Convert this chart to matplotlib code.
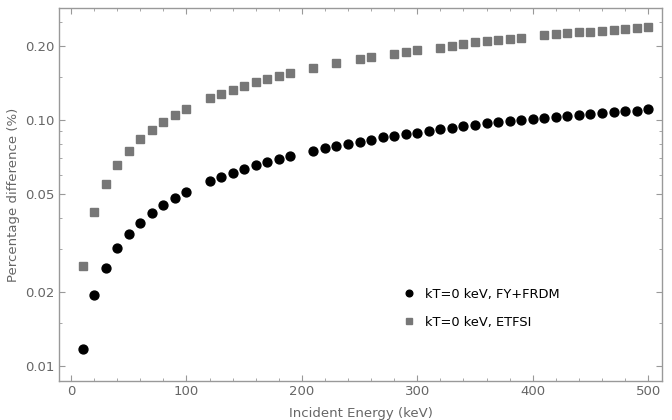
import matplotlib
matplotlib.use("Agg")
import matplotlib.pyplot as plt
from matplotlib.ticker import FixedLocator, FixedFormatter, NullFormatter

# FY+FRDM (black circles)
x_frdm = [10, 20, 30, 40, 50, 60, 70, 80, 90, 100,
          120, 130, 140, 150, 160, 170, 180, 190,
          210, 220, 230, 240, 250, 260, 270, 280, 290, 300,
          310, 320, 330, 340, 350, 360, 370, 380, 390, 400,
          410, 420, 430, 440, 450, 460, 470, 480, 490, 500]
y_frdm = [0.01173, 0.0194, 0.0251, 0.0301, 0.0343, 0.0383, 0.0419, 0.0452, 0.0484, 0.0510,
          0.0566, 0.0587, 0.0612, 0.0633, 0.0655, 0.0676, 0.0695, 0.0715,
          0.0749, 0.0768, 0.0785, 0.0802, 0.0818, 0.0833, 0.0852, 0.0865, 0.0879, 0.0890,
          0.0906, 0.0918, 0.0932, 0.0945, 0.0955, 0.0971, 0.0980, 0.0990, 0.1002, 0.1014,
          0.1021, 0.1030, 0.1043, 0.1052, 0.1063, 0.1069, 0.1080, 0.1086, 0.1093, 0.1107]

# ETFSI (gray squares)
x_etfsi = [10, 20, 30, 40, 50, 60, 70, 80, 90, 100,
           120, 130, 140, 150, 160, 170, 180, 190,
           210, 230, 250, 260, 280, 290, 300,
           320, 330, 340, 350, 360, 370, 380, 390,
           410, 420, 430, 440, 450, 460, 470, 480, 490, 500]
y_etfsi = [0.0256, 0.0423, 0.0550, 0.0657, 0.0749, 0.0836, 0.0915, 0.0986, 0.1053, 0.1114,
           0.1231, 0.1282, 0.1331, 0.1381, 0.1426, 0.1471, 0.1509, 0.1556,
           0.1631, 0.1704, 0.1770, 0.1803, 0.1859, 0.1895, 0.1930,
           0.1972, 0.2009, 0.2036, 0.2067, 0.2100, 0.2120, 0.2139, 0.2154,
           0.2208, 0.2228, 0.2249, 0.2270, 0.2291, 0.2306, 0.2321, 0.2343, 0.2357, 0.2388]

label_frdm = "kT=0 keV, FY+FRDM"
label_etfsi = "kT=0 keV, ETFSI"

y_major = [0.01, 0.02, 0.05, 0.10, 0.20]
y_major_labels = ["0.01", "0.02", "0.05", "0.10", "0.20"]
y_minor = [0.015, 0.03, 0.04, 0.06, 0.07, 0.08, 0.09, 0.15, 0.25]
x_major = [0, 100, 200, 300, 400, 500]

frame_col = "#999999"
text_col = "#666666"

fig = plt.figure(figsize=(6.72, 4.2), dpi=100)
ax = fig.add_axes([59/672, 39/420, (662-59)/672, (381-8)/420])

ax.plot(x_frdm, y_frdm, linestyle="none", marker="o", markersize=6.4,
        color="black", label=label_frdm)
ax.plot(x_etfsi, y_etfsi, linestyle="none", marker="s", markersize=5.4,
        color="#777777", label=label_etfsi)

ax.set_yscale("log")
ax.set_xlim(-10.4, 512)
ax.set_ylim(0.00869, 0.2855)

ax.yaxis.set_major_locator(FixedLocator(y_major))
ax.yaxis.set_major_formatter(FixedFormatter(y_major_labels))
ax.yaxis.set_minor_locator(FixedLocator(y_minor))
ax.yaxis.set_minor_formatter(NullFormatter())
ax.xaxis.set_major_locator(FixedLocator(x_major))
ax.xaxis.set_minor_locator(FixedLocator(list(range(0, 520, 20))))

for s in ax.spines.values():
    s.set_color(frame_col)
    s.set_linewidth(1.0)

ax.tick_params(which="both", direction="in", top=True, right=True,
               colors=frame_col, labelcolor=text_col, labelsize=9.5, pad=3)
ax.tick_params(which="major", length=4.5, width=0.8)
ax.tick_params(which="minor", length=2.5, width=0.6)

ax.set_xlabel("Incident Energy (keV)", color=text_col, fontsize=9.5, labelpad=6)
ax.set_ylabel("Percentage difference (%)", color=text_col, fontsize=9.5, labelpad=4)

leg = ax.legend(loc="center", bbox_to_anchor=(0.70, 0.195), frameon=False,
                fontsize=9.4, handletextpad=0.7, labelspacing=1.15,
                handlelength=1.0, markerscale=0.75)

fig.savefig("out.png", dpi=100)
